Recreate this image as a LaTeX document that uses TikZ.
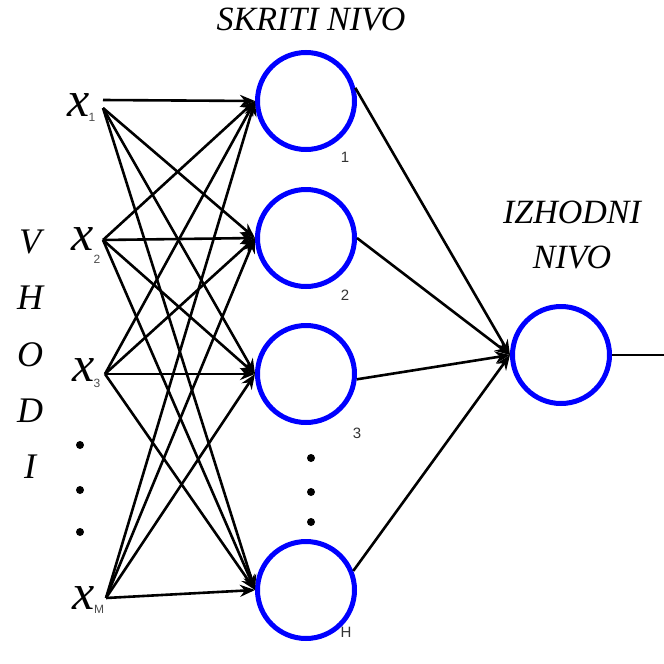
\documentclass[tikz,border=0pt]{standalone}
\usepackage{fontspec}
\setmainfont{Liberation Serif}
\setsansfont{Liberation Sans}
\usetikzlibrary{arrows.meta}
\begin{document}
\begin{tikzpicture}[x=1pt,y=-1pt,
  neuron/.style={circle,draw=blue,line width=5pt,minimum size=97pt,inner sep=0pt},
  conn/.style={line width=2.6pt,-{Stealth[length=15pt,width=12pt]}},
  plain/.style={line width=2.6pt},
  title/.style={font=\fontsize{34}{36}\selectfont\itshape},
  xlab/.style={font=\fontsize{50}{52}\selectfont\itshape,inner sep=0pt},
  sub/.style={font=\fontsize{12}{13}\selectfont\sffamily,text=black!70,inner sep=0pt},
  vlet/.style={font=\fontsize{36}{38}\selectfont\itshape,inner sep=0pt},
  num/.style={font=\fontsize{15}{16}\selectfont\sffamily,text=black!80,inner sep=0pt},
  dot/.style={circle,fill=black,inner sep=0pt,minimum size=8pt}]
\useasboundingbox (0,0) rectangle (664,664);
% titles
\node[title] (t1) at (311,20) {SKRITI NIVO};
\node[title] (t2) at (572,212) {IZHODNI};
\node[title] (t3) at (572,257) {NIVO};
% VHODI
\node[vlet] (v1) at (30,242) {V};
\node[vlet] (v2) at (30,298) {H};
\node[vlet] (v3) at (30,355) {O};
\node[vlet] (v4) at (30,411) {D};
\node[vlet] (v5) at (30,467) {I};
% inputs
\node[xlab] (x1) at (79,105) {x};
\node[sub] (s1) at (92,117) {1};
\node[xlab] (x2) at (83,239) {x};
\node[sub] (s2) at (97,259) {2};
\node[xlab] (x3) at (84,370) {x};
\node[sub] (s3) at (97,383) {3};
\node[xlab] (xm) at (84,598) {x};
\node[sub] (sm) at (99,609) {M};
\coordinate (i1) at (103,108);
\coordinate (i1h) at (103,100);
\coordinate (i2) at (103,240);
\coordinate (i3) at (105,374);
\coordinate (im) at (106,598);
\node[dot] (d1) at (80,445) {};
\node[dot] (d2) at (80,490) {};
\node[dot] (d3) at (80,532) {};
% hidden
\node[neuron] (h1) at (306,101) {};
\node[neuron] (h2) at (306,238) {};
\node[neuron] (h3) at (306,374) {};
\node[neuron] (h4) at (306,590) {};
\node[num] (n1) at (345,157) {1};
\node[num] (n2) at (345,295) {2};
\node[num] (n3) at (357,433) {3};
\node[num] (n4) at (346,632) {H};
\node[dot] (e1) at (311,458) {};
\node[dot] (e2) at (311,492) {};
\node[dot] (e3) at (311,522) {};
% output
\node[neuron] (o) at (561,355) {};
\coordinate (out) at (664,355);
% connections
\draw[conn] (i1h) -- (h1.west);
\foreach \h in {h2,h3,h4} \draw[conn] (i1) -- (\h.west);
\foreach \i in {i2,i3,im} \foreach \h in {h1,h2,h3,h4} \draw[conn] (\i) -- (\h.west);
\draw[conn] (h1.15) -- (o.west);
\draw[conn] (h2.east) -- (o.west);
\draw[conn] (h3.-6) -- (o.west);
\draw[conn] (h4.22) -- (o.west);
\draw[plain] (o.east) -- (out);
\end{tikzpicture}
\end{document}
